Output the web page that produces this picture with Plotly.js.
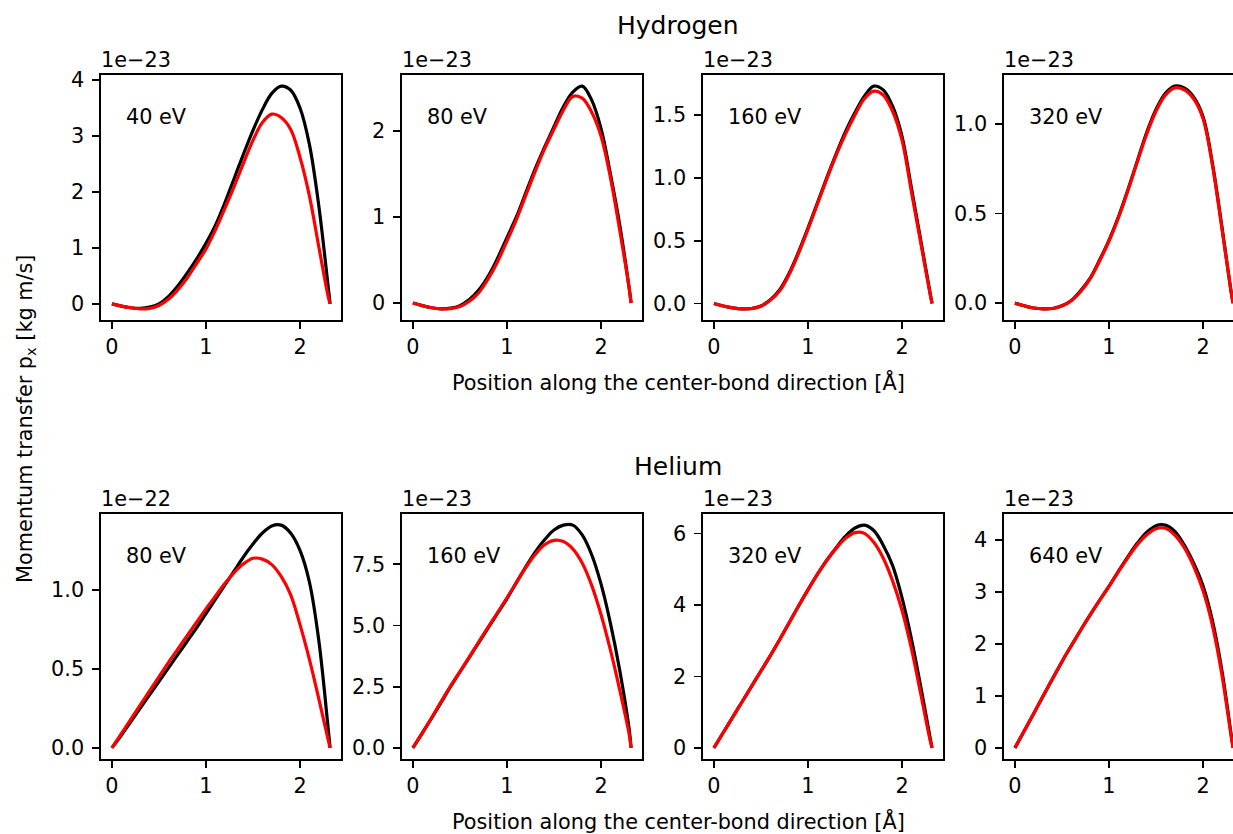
<!DOCTYPE html>
<html><head><meta charset="utf-8">
<script src="https://cdn.plot.ly/plotly-3.0.1.min.js"></script>
<style>
html,body{margin:0;padding:0;overflow:hidden;background:#fff;width:1233px;height:834px}
#plot{width:1300px;height:834px}
</style>
</head><body><div id="plot"></div>
<script>
// ---- data (y values in units of the panel's exponent label) ----
const positions = [0,0.1,0.2,0.3,0.4,0.5,0.6,0.7,0.8,0.9,1.0,1.1,1.2,1.3,1.4,1.5,1.6,1.7,1.8,1.9,2.0,2.1,2.2,2.3,2.32];

const rowTitles = ['Hydrogen', 'Helium'];
const panelLabels = ['40 eV','80 eV','160 eV','320 eV','80 eV','160 eV','320 eV','640 eV'];
const exponentLabels = ['1e\u221223','1e\u221223','1e\u221223','1e\u221223','1e\u221222','1e\u221223','1e\u221223','1e\u221223'];
const yTickSteps = [1,1,0.5,0.5,0.5,2.5,2,1];
const yTickFormats = ['d','d','.1f','.1f','.1f','.1f','d','d'];
const xTickValues = [0,1,2];
const xAxisTitle = 'Position along the center-bond direction [\u00c5]';
const yAxisTitle = 'Momentum transfer p<sub>x</sub> [kg m/s]';

const h40Black  = [0,-0.04,-0.07,-0.08,-0.06,0.0,0.13,0.32,0.55,0.80,1.08,1.40,1.80,2.24,2.68,3.10,3.47,3.76,3.89,3.82,3.50,2.85,1.75,0.30,0];
const h40Red    = [0,-0.04,-0.07,-0.09,-0.08,-0.03,0.08,0.25,0.46,0.72,0.98,1.32,1.70,2.10,2.52,2.92,3.24,3.39,3.33,3.12,2.62,1.93,1.02,0.13,0];
const h80Black  = [0,-0.03,-0.055,-0.067,-0.06,-0.03,0.04,0.15,0.31,0.52,0.76,1.0,1.28,1.56,1.81,2.05,2.28,2.45,2.52,2.36,2.03,1.50,0.90,0.17,0];
const h80Red    = [0,-0.03,-0.055,-0.068,-0.065,-0.04,0.02,0.12,0.28,0.48,0.72,0.97,1.25,1.53,1.79,2.02,2.24,2.40,2.38,2.22,1.94,1.46,0.84,0.17,0];
const h160Black = [0,-0.02,-0.035,-0.043,-0.04,-0.02,0.03,0.11,0.24,0.41,0.60,0.80,1.00,1.19,1.37,1.52,1.65,1.73,1.70,1.57,1.33,0.92,0.50,0.08,0];
const h160Red   = [0,-0.02,-0.035,-0.043,-0.041,-0.022,0.025,0.10,0.23,0.40,0.59,0.79,0.99,1.18,1.35,1.50,1.63,1.69,1.66,1.53,1.30,0.89,0.48,0.07,0];
const h320Black = [0,-0.015,-0.027,-0.032,-0.03,-0.015,0.015,0.07,0.14,0.24,0.35,0.48,0.63,0.79,0.95,1.08,1.17,1.21,1.20,1.15,1.04,0.78,0.43,0.06,0];
const h320Red   = [0,-0.015,-0.027,-0.032,-0.03,-0.016,0.013,0.065,0.135,0.235,0.345,0.475,0.625,0.785,0.94,1.07,1.16,1.20,1.19,1.14,1.03,0.77,0.42,0.06,0];
const he80Black  = [0,0.08,0.165,0.25,0.335,0.42,0.505,0.59,0.675,0.76,0.85,0.94,1.03,1.12,1.21,1.29,1.36,1.405,1.41,1.36,1.25,1.05,0.68,0.12,0];
const he80Red    = [0,0.09,0.18,0.27,0.36,0.45,0.54,0.625,0.71,0.795,0.88,0.96,1.04,1.11,1.165,1.20,1.195,1.16,1.085,0.97,0.78,0.56,0.31,0.05,0];
const he160Black = [0,0.6,1.22,1.86,2.5,3.1,3.7,4.3,4.9,5.5,6.1,6.75,7.4,8.0,8.5,8.9,9.1,9.1,8.7,7.9,6.7,5.1,3.15,0.75,0];
const he160Red   = [0,0.61,1.24,1.89,2.52,3.12,3.72,4.33,4.93,5.53,6.13,6.75,7.36,7.9,8.3,8.48,8.43,8.13,7.55,6.65,5.45,4.0,2.35,0.55,0];
const he320Black = [0,0.43,0.86,1.29,1.72,2.15,2.58,3.03,3.5,3.97,4.42,4.85,5.25,5.6,5.92,6.15,6.23,6.08,5.67,5.1,4.2,3.05,1.7,0.27,0];
const he320Red   = [0,0.43,0.86,1.29,1.72,2.15,2.58,3.03,3.5,3.97,4.42,4.85,5.24,5.58,5.86,6.02,6.0,5.75,5.31,4.67,3.85,2.78,1.5,0.2,0];
const he640Black = [0,0.33,0.66,1.0,1.33,1.66,1.97,2.27,2.56,2.84,3.11,3.40,3.68,3.94,4.15,4.28,4.29,4.17,3.91,3.56,3.12,2.45,1.5,0.25,0];
const he640Red   = [0,0.33,0.66,1.0,1.33,1.66,1.97,2.27,2.56,2.84,3.11,3.39,3.66,3.91,4.10,4.22,4.23,4.10,3.86,3.50,3.03,2.36,1.42,0.22,0];

const blackSeries = [h40Black,h80Black,h160Black,h320Black,he80Black,he160Black,he320Black,he640Black];
const redSeries   = [h40Red,h80Red,h160Red,h320Red,he80Red,he160Red,he320Red,he640Red];

// ---- layout geometry (pixels) ----
const W = 1300, H = 834;
const panelLeft = [101, 402, 703, 1004];
const panelW = 240;
const rowTop = [75, 514];
const panelH = 245;
const FONT = 'DejaVu Sans, Liberation Sans, sans-serif';
const FS = 20.8;

const traces = [];
const layout = {
  width: W, height: H,
  margin: {l:0, r:0, t:0, b:0},
  paper_bgcolor: '#fff', plot_bgcolor: '#fff',
  showlegend: false, hovermode: false,
  font: {family: FONT, size: FS, color: '#000'},
  annotations: []
};

function px(x){ return x / W; }
function py(y){ return (H - y) / H; }

const xRange = [-0.116, 2.436];

for (let i = 0; i < 8; i++) {
  const row = Math.floor(i / 4), col = i % 4;
  const n = i + 1;
  const xa = n === 1 ? 'x' : 'x' + n;
  const ya = n === 1 ? 'y' : 'y' + n;
  const xk = n === 1 ? 'xaxis' : 'xaxis' + n;
  const yk = n === 1 ? 'yaxis' : 'yaxis' + n;
  const b = blackSeries[i], r = redSeries[i];
  traces.push({x: positions, y: b, xaxis: xa, yaxis: ya, type: 'scatter', mode: 'lines',
               line: {color: '#000000', width: 3.2, shape: 'spline', smoothing: 1}});
  traces.push({x: positions, y: r, xaxis: xa, yaxis: ya, type: 'scatter', mode: 'lines',
               line: {color: '#ff0000', width: 3.2, shape: 'spline', smoothing: 1}});
  const lo = Math.min(...b, ...r), hi = Math.max(...b, ...r);
  const pad = 0.05 * (hi - lo);
  const L = panelLeft[col], T = rowTop[row];
  layout[xk] = {
    domain: [px(L), px(L + panelW)], anchor: ya, range: xRange,
    tickmode: 'array', tickvals: xTickValues, ticktext: xTickValues.map(String),
    showline: true, mirror: true, linecolor: '#000', linewidth: 1.7,
    ticks: 'outside', ticklen: 7, tickwidth: 1.7, tickcolor: '#000',
    showgrid: false, zeroline: false,
    tickfont: {family: FONT, size: FS, color: '#000'}
  };
  layout[yk] = {
    domain: [py(T + panelH), py(T)], anchor: xa, range: [lo - pad, hi + pad],
    tick0: 0, dtick: yTickSteps[i], tickformat: yTickFormats[i],
    showline: true, mirror: true, linecolor: '#000', linewidth: 1.7,
    ticks: 'outside', ticklen: 7, tickwidth: 1.7, tickcolor: '#000',
    showgrid: false, zeroline: false, ticklabelstandoff: 4,
    tickfont: {family: FONT, size: FS, color: '#000'}
  };
  // energy label inside panel
  layout.annotations.push({
    text: panelLabels[i], xref: xa + ' domain', yref: ya + ' domain',
    x: 0.095, y: 0.83, xanchor: 'left', yanchor: 'middle', showarrow: false,
    font: {family: FONT, size: FS, color: '#000'}
  });
  // offset (exponent) label
  layout.annotations.push({
    text: exponentLabels[i], xref: 'paper', yref: 'paper',
    x: px(L - 2), y: py(T - 15), xanchor: 'left', yanchor: 'middle', showarrow: false,
    font: {family: FONT, size: FS, color: '#000'}
  });
}

// row titles and shared x-axis titles
const rowTitleY = [25, 466];
const xTitleY = [382, 821];
for (let k = 0; k < 2; k++) {
  layout.annotations.push({
    text: rowTitles[k], xref: 'paper', yref: 'paper', x: px(678), y: py(rowTitleY[k]),
    xanchor: 'center', yanchor: 'middle', showarrow: false,
    font: {family: FONT, size: 25, color: '#000'}
  });
  layout.annotations.push({
    text: xAxisTitle, xref: 'paper', yref: 'paper', x: px(678.5), y: py(xTitleY[k]),
    xanchor: 'center', yanchor: 'middle', showarrow: false,
    font: {family: FONT, size: FS, color: '#000'}
  });
}
layout.annotations.push({
  text: yAxisTitle, xref: 'paper', yref: 'paper', x: px(26), y: py(419),
  xanchor: 'center', yanchor: 'middle', textangle: -90, showarrow: false,
  font: {family: FONT, size: FS, color: '#000'}
});

Plotly.newPlot('plot', traces, layout, {staticPlot: true, displayModeBar: false});
</script>
</body></html>
